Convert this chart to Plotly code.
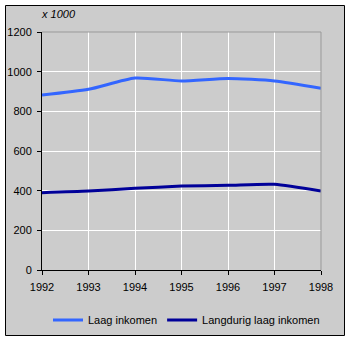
import plotly.graph_objects as go

years = [1992, 1993, 1994, 1995, 1996, 1997, 1998]
laag = [882, 911, 968, 953, 966, 953, 916]
langdurig = [390, 398, 412, 423, 427, 432, 398]
y_ticks = [0, 200, 400, 600, 800, 1000, 1200]

W, H = 351, 341
L, R, T, B = 42, 30, 32, 71
pw, ph = W - L - R, H - T - B

def px_x(p):
    return (p - L) / pw

def px_y(p):
    return (H - B - p) / ph

fig = go.Figure()
fig.add_trace(go.Scatter(x=years, y=laag, mode="lines", name="Laag inkomen",
                         line=dict(color="#3366FF", width=3, shape="spline", smoothing=0.6)))
fig.add_trace(go.Scatter(x=years, y=langdurig, mode="lines", name="Langdurig laag inkomen",
                         line=dict(color="#000099", width=3, shape="spline", smoothing=0.6)))

font = dict(family="Liberation Sans, Arial, sans-serif", size=11, color="black")

fig.update_layout(
    width=W, height=H,
    margin=dict(l=L, r=R, t=T, b=B, autoexpand=False),
    paper_bgcolor="white",
    plot_bgcolor="#CCCCCC",
    font=font,
    showlegend=True,
    legend=dict(orientation="h", x=px_x(325), xanchor="right", y=px_y(320), yanchor="middle",
                bgcolor="rgba(0,0,0,0)", font=font, itemwidth=30, tracegroupgap=0),
    xaxis=dict(range=[1992, 1998], tickvals=years, ticktext=[str(y) for y in years],
               showgrid=True, gridcolor="white", gridwidth=1,
               showline=True, linecolor="black", linewidth=1,
               ticks="outside", ticklen=4, tickcolor="black", zeroline=False,
               ticklabelstandoff=3, tickfont=font),
    yaxis=dict(range=[0, 1200], tickvals=y_ticks, ticktext=[str(v) for v in y_ticks],
               showgrid=True, gridcolor="white", gridwidth=1,
               showline=True, linecolor="black", linewidth=1,
               ticks="outside", ticklen=4, tickcolor="black", zeroline=False,
               ticklabelstandoff=3, tickfont=font),
    shapes=[
        dict(type="rect", xref="paper", yref="paper", layer="below",
             x0=px_x(5.5), x1=px_x(344.5), y0=px_y(335.5), y1=px_y(5.5),
             fillcolor="#CCCCCC", line=dict(color="black", width=1)),
        dict(type="line", xref="paper", yref="paper", x0=0, x1=1, y0=1, y1=1,
             line=dict(color="#999999", width=1)),
        dict(type="line", xref="paper", yref="paper", x0=1, x1=1, y0=0, y1=1,
             line=dict(color="#999999", width=1)),
    ],
    annotations=[
        dict(text="<i>x 1000</i>", xref="paper", yref="paper", x=px_x(39), y=px_y(14),
             xanchor="left", yanchor="middle", showarrow=False, font=font),
    ],
)

fig.write_html("out.html")
